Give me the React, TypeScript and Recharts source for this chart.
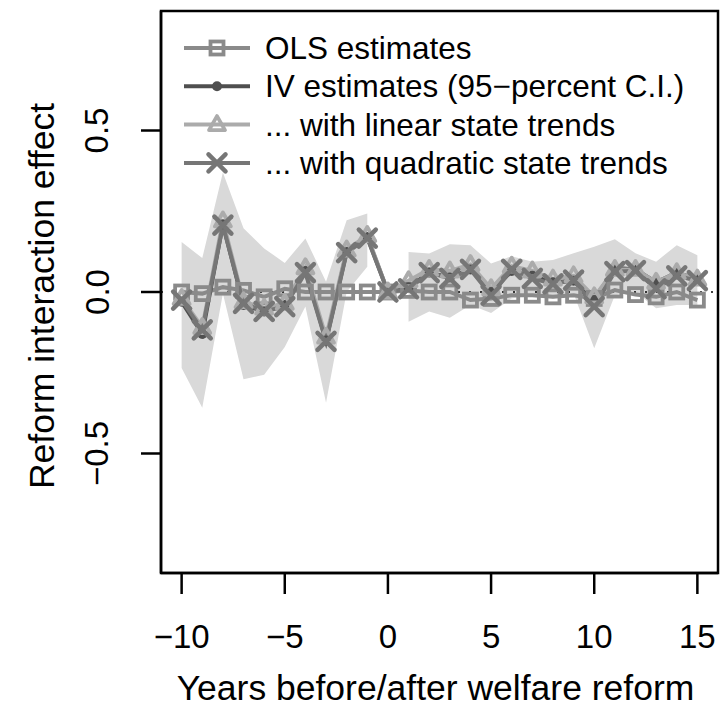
import React from 'react';
import { ComposedChart, Line, Area, XAxis, YAxis, ReferenceLine, ReferenceArea } from 'recharts';

if (typeof document !== 'undefined') {
  document.body.style.margin = '0';
}

// ---------- data ----------
const years = [-10, -9, -8, -7, -6, -5, -4, -3, -2, -1, 0, 1, 2, 3, 4, 5, 6, 7, 8, 9, 10, 11, 12, 13, 14, 15];
const olsEstimates = [0, -0.005, 0.015, 0.005, -0.015, 0.01, 0, 0, 0, 0, 0, 0.005, 0, 0, -0.025, -0.02, -0.01, -0.01, -0.015, -0.01, -0.02, 0.006, -0.008, -0.015, 0, -0.025];
const ivEstimates = [-0.03, -0.13, 0.21, -0.04, -0.06, -0.04, 0.065, -0.15, 0.125, 0.17, 0, 0.015, 0.06, 0.045, 0.07, 0, 0.065, 0.05, 0.03, 0.035, -0.025, 0.075, 0.07, 0.03, 0.06, 0.04];
const linearTrend = [-0.02, -0.11, 0.22, -0.03, -0.05, -0.035, 0.075, -0.14, 0.13, 0.175, 0, 0.035, 0.07, 0.065, 0.085, 0.01, 0.08, 0.065, 0.04, 0.05, -0.015, 0.07, 0.07, 0.03, 0.06, 0.04];
const quadraticTrend = [-0.025, -0.117, 0.207, -0.035, -0.06, -0.045, 0.06, -0.153, 0.122, 0.167, 0, 0.01, 0.06, 0.042, 0.07, -0.01, 0.07, 0.042, 0.025, 0.037, -0.045, 0.063, 0.066, 0.01, 0.05, 0.035];
const ciLower: (number | null)[] = [-0.235, -0.358, -0.005, -0.27, -0.256, -0.17, -0.045, -0.343, 0.0, 0.078, null, -0.092, -0.06, -0.08, -0.04, -0.065, -0.02, -0.01, -0.02, -0.005, -0.174, -0.01, 0.0, -0.05, -0.04, -0.04];
const ciUpper: (number | null)[] = [0.155, 0.105, 0.37, 0.197, 0.135, 0.09, 0.166, 0.032, 0.222, 0.243, null, 0.124, 0.119, 0.148, 0.145, 0.088, 0.111, 0.094, 0.099, 0.12, 0.14, 0.163, 0.12, 0.094, 0.145, 0.114];
const xTicks = [-10, -5, 0, 5, 10, 15];
const yTicks = [-0.5, 0, 0.5];
const xDomain = [-11, 16];
const yDomain = [-0.87, 0.87];
const legendLabels = [
  'OLS estimates',
  'IV estimates (95\u2212percent C.I.)',
  '... with linear state trends',
  '... with quadratic state trends',
];

const data = years.map((year, i) => ({
  year,
  ols: olsEstimates[i],
  iv: ivEstimates[i],
  lin: linearTrend[i],
  quad: quadraticTrend[i],
  ci: ciLower[i] === null || ciUpper[i] === null ? null : [ciLower[i], ciUpper[i]],
}));

// ---------- styles ----------
const FONT = '"Liberation Sans", Arial, Helvetica, sans-serif';
const C_OLS = '#8a8a8a';
const C_IV = '#4f4f4f';
const C_LIN = '#ababab';
const C_QUAD = '#767676';
const C_BAND = '#d9d9d9';

const W = 720;
const H = 718;

const fmtMinus = (s: string) => s.replace('-', '\u2212');

// ---------- marker shapes ----------
const Square = (cx: number, cy: number, key?: any) => (
  <rect key={key} x={cx - 6.5} y={cy - 6.5} width={13} height={13} fill="none" stroke={C_OLS} strokeWidth={3.8} />
);
const Circle = (cx: number, cy: number, key?: any) => (
  <circle key={key} cx={cx} cy={cy} r={5} fill={C_IV} />
);
const Triangle = (cx: number, cy: number, key?: any) => (
  <path key={key} d={`M${cx},${cy - 8.5} L${cx + 8},${cy + 5.5} L${cx - 8},${cy + 5.5} Z`} fill="none" stroke={C_LIN} strokeWidth={3.8} strokeLinejoin="round" />
);
const Cross = (cx: number, cy: number, key?: any) => (
  <g key={key} stroke={C_QUAD} strokeWidth={4.5} strokeLinecap="round">
    <line x1={cx - 8.5} y1={cy - 8.5} x2={cx + 8.5} y2={cy + 8.5} />
    <line x1={cx - 8.5} y1={cy + 8.5} x2={cx + 8.5} y2={cy - 8.5} />
  </g>
);

const dotFn = (shape: (cx: number, cy: number, key?: any) => any, name: string) => (props: any) => {
  const { cx, cy, index } = props;
  if (cx == null || cy == null || isNaN(cx) || isNaN(cy)) return <g key={`${name}-${index}`} />;
  return shape(cx, cy, `${name}-${index}`);
};

// ---------- ticks & labels ----------
const XTick = (props: any) => {
  const { x, y, payload } = props;
  return (
    <text x={x} y={y + 52} textAnchor="middle" fontFamily={FONT} fontSize={33} fill="#000">
      {fmtMinus(String(payload.value))}
    </text>
  );
};

const YTick = (props: any) => {
  const { x, y, payload } = props;
  const tx = x - 42;
  return (
    <text
      x={tx}
      y={y}
      textAnchor="middle"
      dominantBaseline="central"
      fontFamily={FONT}
      fontSize={33}
      fill="#000"
      transform={`rotate(-90, ${tx}, ${y})`}
    >
      {fmtMinus(Number(payload.value).toFixed(1))}
    </text>
  );
};

const XTitle = (props: any) => {
  const vb = props.viewBox || {};
  const cx = vb.x + vb.width / 2 - 4;
  return (
    <text x={cx} y={vb.y + 127} textAnchor="middle" fontFamily={FONT} fontSize={35.5} fill="#000">
      Years before/after welfare reform
    </text>
  );
};

const YTitle = (props: any) => {
  const vb = props.viewBox || {};
  const tx = vb.x + 42;
  const ty = vb.y + vb.height / 2 + 4;
  return (
    <text
      x={tx}
      y={ty}
      textAnchor="middle"
      dominantBaseline="central"
      fontFamily={FONT}
      fontSize={35.5}
      fill="#000"
      transform={`rotate(-90, ${tx}, ${ty})`}
    >
      Reform interaction effect
    </text>
  );
};

// ---------- legend overlay ----------
const legendShapes = [
  { color: C_OLS, shape: Square },
  { color: C_IV, shape: Circle },
  { color: C_LIN, shape: Triangle },
  { color: C_QUAD, shape: Cross },
];

const LegendOverlay = () => {
  const rowY0 = 48;
  const rowGap = 38.3;
  return (
    <svg width={W} height={H} style={{ position: 'absolute', left: 0, top: 0, pointerEvents: 'none' }}>
      {legendLabels.map((label, i) => {
        const y = rowY0 + i * rowGap;
        const s = legendShapes[i];
        return (
          <g key={label}>
            <line x1={184} y1={y} x2={250} y2={y} stroke={s.color} strokeWidth={4} />
            {s.shape(217, y)}
            <text x={265} y={y} dominantBaseline="central" fontFamily={FONT} fontSize={31.5} fill="#000">
              {label}
            </text>
          </g>
        );
      })}
    </svg>
  );
};

export default function App() {
  return (
    <div style={{ position: 'relative', width: W, height: H, background: '#fff' }}>
      <ComposedChart width={W} height={H} data={data} margin={{ top: 11, right: 2, bottom: 0, left: 0 }}>
        <XAxis
          dataKey="year"
          type="number"
          domain={xDomain}
          ticks={xTicks}
          allowDataOverflow
          height={145}
          tickSize={21}
          tickMargin={2}
          tickLine={{ stroke: '#000', strokeWidth: 2.5 }}
          axisLine={{ stroke: '#000', strokeWidth: 2.5 }}
          tick={<XTick />}
          label={XTitle}
        />
        <YAxis
          type="number"
          domain={yDomain}
          ticks={yTicks}
          allowDataOverflow
          width={161}
          tickSize={20}
          tickMargin={2}
          tickLine={{ stroke: '#000', strokeWidth: 2.5 }}
          axisLine={{ stroke: '#000', strokeWidth: 2.5 }}
          tick={<YTick />}
          label={YTitle}
        />
        <Area
          type="linear"
          dataKey="ci"
          fill={C_BAND}
          fillOpacity={1}
          stroke="none"
          connectNulls={false}
          dot={false}
          activeDot={false}
          isAnimationActive={false}
        />
        <ReferenceLine y={0} stroke="#000" strokeWidth={1.5} strokeDasharray="2 9" />
        <Line type="linear" dataKey="ols" stroke={C_OLS} strokeWidth={4} dot={dotFn(Square, 'ols')} activeDot={false} isAnimationActive={false} />
        <Line type="linear" dataKey="iv" stroke={C_IV} strokeWidth={4} dot={dotFn(Circle, 'iv')} activeDot={false} isAnimationActive={false} />
        <Line type="linear" dataKey="lin" stroke={C_LIN} strokeWidth={4} dot={dotFn(Triangle, 'lin')} activeDot={false} isAnimationActive={false} />
        <Line type="linear" dataKey="quad" stroke={C_QUAD} strokeWidth={4} dot={dotFn(Cross, 'quad')} activeDot={false} isAnimationActive={false} />
        <ReferenceArea
          x1={xDomain[0]}
          x2={xDomain[1]}
          y1={yDomain[0]}
          y2={yDomain[1]}
          fill="none"
          fillOpacity={0}
          stroke="#000"
          strokeWidth={2.5}
          ifOverflow="visible"
        />
      </ComposedChart>
      <LegendOverlay />
    </div>
  );
}
